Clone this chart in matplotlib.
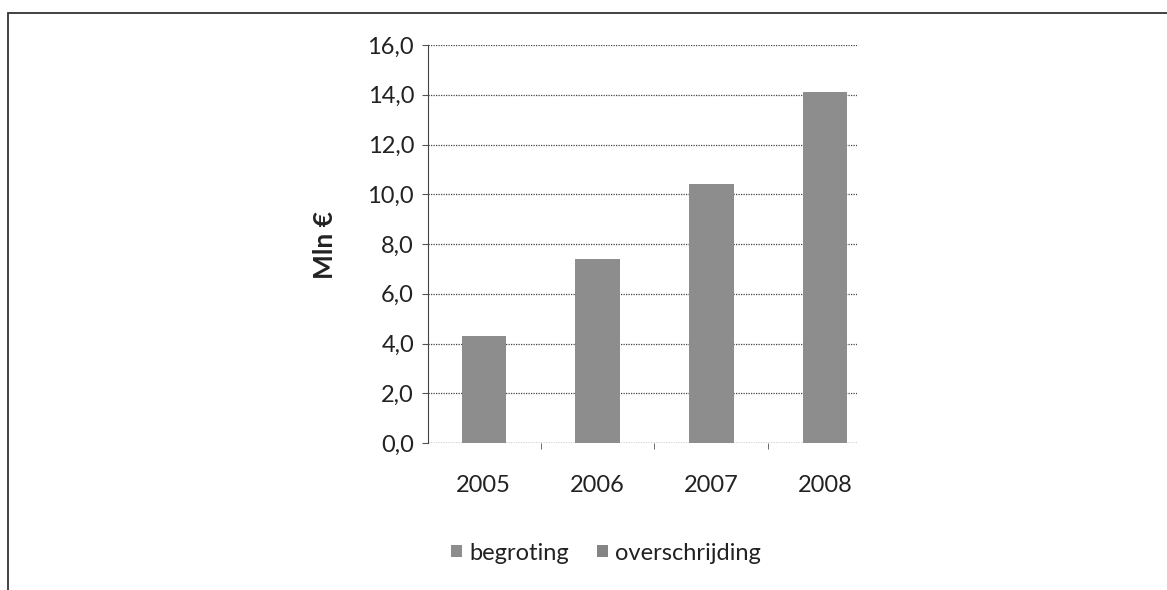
import numpy as np
import matplotlib.pyplot as plt
from matplotlib.patches import Rectangle

jaren = ['2005', '2006', '2007', '2008']
begroting = [4.3, 7.4, 10.4, 14.1]
overschrijding = [0.0, 0.0, 0.0, 0.0]
y_ticks = [0, 2, 4, 6, 8, 10, 12, 14, 16]

plt.rcParams['font.family'] = ['Lato', 'DejaVu Sans']

W, H = 1167, 590
fig = plt.figure(figsize=(W / 100, H / 100), dpi=100)
ax = fig.add_axes([428 / W, 1 - 443 / H, (857 - 428) / W, (443 - 45) / H])

x = np.arange(len(jaren))
ax.bar(x, begroting, width=0.39, color='#8d8d8d', label='begroting', zorder=3)
ax.bar(x, overschrijding, width=0.39, bottom=begroting, color='#858585',
       label='overschrijding', zorder=3)

ax.set_xlim(-0.49, 3.28)
ax.set_ylim(0, 16)
ax.set_yticks(y_ticks)
ax.set_yticklabels([f'{v:.1f}'.replace('.', ',') for v in y_ticks], fontsize=17, color='#222222')
ax.set_xticks(x)
ax.set_xticklabels(jaren, fontsize=17, color='#222222')
ax.set_xticks([0.5, 1.5, 2.5], minor=True)
ax.tick_params(axis='x', which='major', length=0, pad=23)
ax.tick_params(axis='x', which='minor', length=4, color='#555555', direction='out')
ax.tick_params(axis='y', length=4, color='#555555', pad=6)

ax.grid(axis='y', linestyle=(0, (1, 1)), color='#444444', linewidth=0.9, zorder=0)
for s in ['top', 'right', 'bottom']:
    ax.spines[s].set_visible(False)
ax.spines['left'].set_linestyle((0, (1, 1)))
ax.spines['left'].set_color('#444444')
ax.axhline(0, color='#444444', linestyle=(0, (1, 1)), linewidth=0.9, zorder=1)

fig.text(325 / W, 1 - 245 / H, 'Mln €', rotation=90, ha='center', va='center',
         fontsize=19, fontweight='bold', color='#222222')

fig.legend(loc='center', bbox_to_anchor=(606 / W, 1 - 553 / H), ncol=2, frameon=False,
           fontsize=17, handlelength=0.45, handleheight=0.45, handletextpad=0.3,
           columnspacing=1.2, labelcolor='#222222')

fig.patches.append(Rectangle((8 / W, -0.05), (W - 8) / W + 0.05, 1 - 13 / H + 0.05,
                             transform=fig.transFigure, fill=False,
                             edgecolor='#333333', linewidth=1.3))

fig.savefig('out.png', dpi=100)
